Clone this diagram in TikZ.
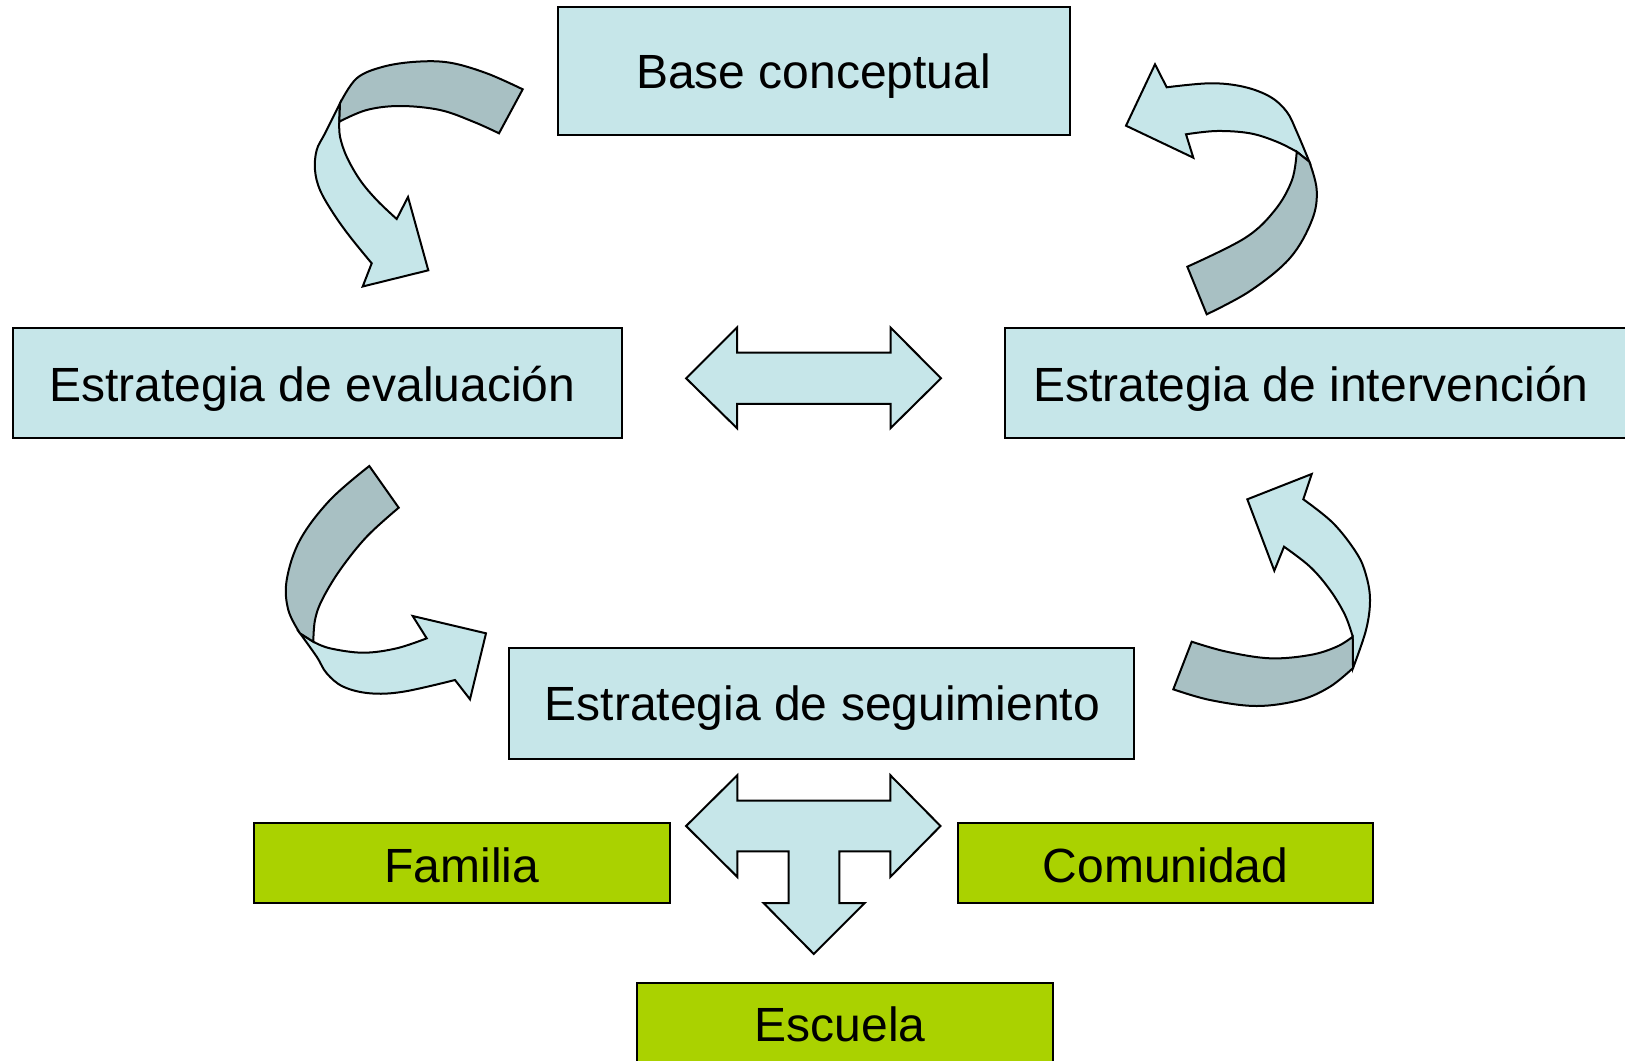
\documentclass[tikz,border=0pt]{standalone}
\usepackage{fontspec}
\setmainfont{Liberation Sans}
\definecolor{lblue}{RGB}{198,230,233}
\definecolor{dblue}{RGB}{168,192,195}
\definecolor{lgreen}{RGB}{170,210,0}
\begin{document}
\begin{tikzpicture}[x=0.5pt,y=-0.5pt,
  box/.style={draw=black,line width=1pt,fill=lblue,inner sep=0pt,outer sep=0pt},
  gbox/.style={box,fill=lgreen},
  txt/.style={inner sep=0pt,font=\fontsize{24}{28}\selectfont},
  lshape/.style={draw=black,line width=1pt,fill=lblue,line join=miter},
  dshape/.style={draw=black,line width=1pt,fill=dblue,line join=miter},
  sm/.style={smooth,tension=0.6}]
\useasboundingbox (0,0) rectangle (1625,1060);
% boxes
\node[box,minimum width=256pt,minimum height=63.7pt] (base) at (813.6,71) {};
\node[txt] (basetxt) at (813.6,76.2) {Base conceptual};
\node[box,minimum width=304.2pt,minimum height=55.4pt] (eval) at (317.6,383) {};
\node[txt] (evaltxt) at (312.4,389.2) {Estrategia de evaluación};
\node[box,minimum width=317.4pt,minimum height=55.4pt] (interv) at (1322.6,383) {};
\node[txt] (intervtxt) at (1311,389.2) {Estrategia de intervención};
\node[box,minimum width=312.4pt,minimum height=55.4pt] (seg) at (821.4,703.2) {};
\node[txt] (segtxt) at (822.4,708.4) {Estrategia de seguimiento};
\node[gbox,minimum width=207.8pt,minimum height=39.9pt] (fam) at (461.7,862.8) {};
\node[txt] (famtxt) at (461.7,864.9) {Familia};
\node[gbox,minimum width=207.8pt,minimum height=39.9pt] (com) at (1165.4,862.8) {};
\node[txt] (comtxt) at (1165.4,864.9) {Comunidad};
\node[gbox,minimum width=207.8pt,minimum height=39.9pt] (esc) at (845.2,1022.6) {};
\node[txt] (esctxt) at (840,1024.7) {Escuela};
% double arrow
\draw[lshape] (686.1,378.3) -- (737,327.5) -- (737,352.6) -- (890.5,352.6) -- (890.5,327.5)
  -- (941,378.3) -- (890.5,428.2) -- (890.5,403.8) -- (737,403.8) -- (737,428.2) -- cycle;
% T arrow
\draw[lshape] (686.1,826) -- (737.3,775.2) -- (737.3,800.6) -- (890.3,800.6) -- (890.3,775.2)
  -- (940.5,826) -- (890.3,876.9) -- (890.3,851.3) -- (839.4,851.3) -- (839.4,903)
  -- (864.7,903) -- (813.8,954) -- (763.5,903) -- (788.6,903) -- (788.6,851.3)
  -- (737.3,851.3) -- (737.3,876.9) -- cycle;
% curved arrow 1 (top left)
\draw[lshape] plot[sm] coordinates {(340,103.3) (325,133.3) (316.7,150) (315,170) (320,190) (333.3,213.3) (350,236.7) (371.7,263.3)}
  -- (362.7,286.5) -- (428.3,270.3) -- (408,197) -- (396.7,219)
  -- plot[sm] coordinates {(396.7,219) (376.7,200) (360,180) (346.7,156.7) (340,136.7) (339.3,121.7)} -- cycle;
\draw[dshape] plot[sm] coordinates {(522.7,89.3) (486.7,73.3) (450,62.7) (416.7,61.7) (383.3,66.7) (356.7,78.3) (340,103.3)}
  -- (339.3,121.7)
  -- plot[sm] coordinates {(339.3,121.7) (366.7,110) (400,106) (440,110) (473.3,121.7) (499,133.3)} -- cycle;
% curved arrow 2 (top right)
\draw[lshape] plot[sm] coordinates {(1309.3,161.7) (1296.7,131.7) (1286.7,111.7) (1270,96.7) (1243.3,86.7) (1210,83.3) (1166.7,87.3)}
  -- (1155,64.3) -- (1126,125.7) -- (1193.3,157.7) -- (1186,134.3)
  -- plot[sm] coordinates {(1186,134.3) (1216.7,131) (1250,133.3) (1276.7,141.7) (1296.7,151.7)} -- cycle;
\draw[dshape] (1187.3,266.7) -- (1206.7,314.3)
  -- plot[sm] coordinates {(1206.7,314.3) (1250,291) (1290,258) (1312,220) (1316.7,190) (1309.3,161.7)}
  -- (1296.7,151.7)
  -- plot[sm] coordinates {(1296.7,151.7) (1292,180) (1275,210) (1245,238) (1187.3,266.7)} -- cycle;
% curved arrow 3 (bottom left)
\draw[lshape] plot[sm] coordinates {(300,633.3) (316.7,656.7) (326.7,673.3) (343.3,686.7) (370,693.3) (403.3,691.7) (455,680)}
  -- (470,699.3) -- (486,633.3) -- (412.7,616) -- (426.7,638.3)
  -- plot[sm] coordinates {(426.7,638.3) (396.7,648.3) (363.3,652.7) (330,648.3) (313.3,641.7)} -- cycle;
\draw[dshape] (369.3,466) -- (398.7,507.7)
  -- plot[sm] coordinates {(398.7,507.7) (366.7,536.7) (340,570) (322,600) (315,620) (313.3,641.7)}
  -- (300,633.3)
  -- plot[sm] coordinates {(300,633.3) (288.3,610) (286.7,580) (300,540) (330,500) (369.3,466)} -- cycle;
% curved arrow 4 (bottom right)
\draw[lshape] plot[sm] coordinates {(1284,546.7) (1310,566.7) (1330,590) (1345,615) (1352.7,636.7)}
  -- (1353,668)
  -- plot[sm] coordinates {(1353,668) (1366,630) (1370,600) (1366,575) (1356.7,553.3) (1333.3,523.3) (1303.3,499.3)}
  -- (1311.7,474) -- (1247.3,499.3) -- (1274.3,570.7) -- cycle;
\draw[dshape] (1191.7,641.7) -- (1173.3,689.3)
  -- plot[sm] coordinates {(1173.3,689.3) (1210,700) (1256.7,706) (1300,700) (1330,686.7) (1353,668)}
  -- (1352.7,636.7)
  -- plot[sm] coordinates {(1352.7,636.7) (1336.7,646.7) (1310,655) (1270,658.3) (1226.7,651.7) (1191.7,641.7)} -- cycle;
\end{tikzpicture}
\end{document}
